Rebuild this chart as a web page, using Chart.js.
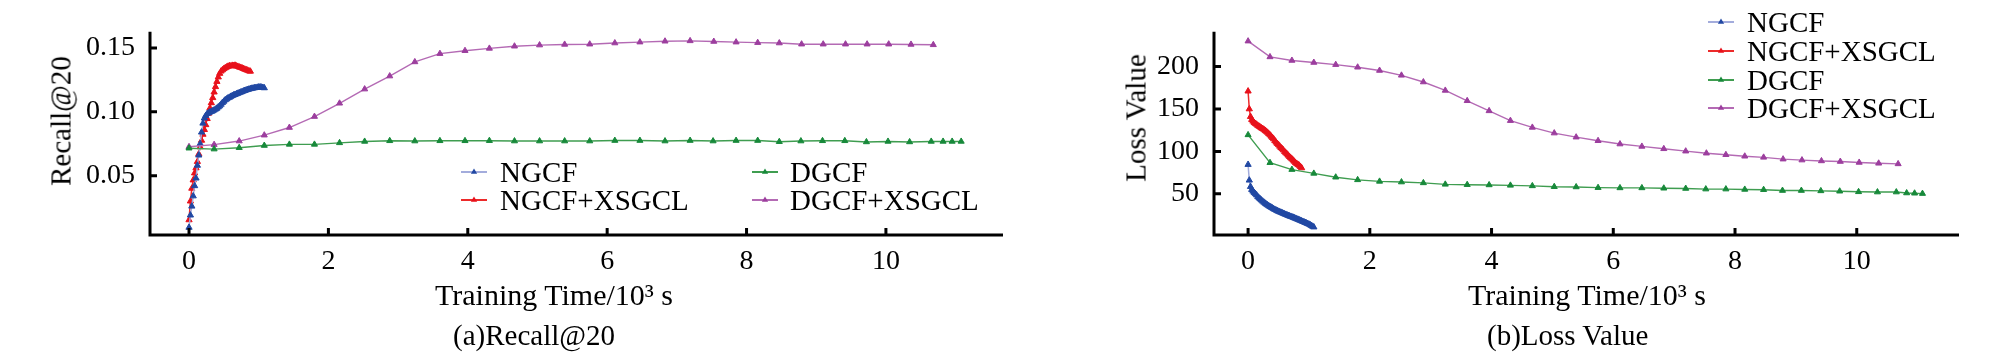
<!DOCTYPE html>
<html><head><meta charset="utf-8">
<script src="https://cdn.jsdelivr.net/npm/chart.js@4.4.1/dist/chart.umd.min.js"></script>
<style>
html,body{margin:0;padding:0;background:#fff;width:2009px;height:356px;overflow:hidden;}
#wrap{position:relative;width:2009px;height:356px;font-family:'Liberation Serif',serif;color:#000;}
.cv{position:absolute;top:0;height:356px;}
.t{position:absolute;white-space:nowrap;line-height:1;}
.rot{transform:translate(-50%,-50%) rotate(-90deg);}
</style></head><body>
<div id="wrap">
  <div class="cv" style="left:0;width:1010px"><canvas id="c1"></canvas></div>
  <div class="cv" style="left:1010px;width:999px"><canvas id="c2"></canvas></div>
  <div class="t" style="left:435px;top:280px;font-size:30px">Training Time/10³ s</div>
  <div class="t" style="left:1468px;top:280px;font-size:30px">Training Time/10³ s</div>
  <div class="t rot" style="left:61px;top:121px;font-size:29px">Recall@20</div>
  <div class="t rot" style="left:1136px;top:118px;font-size:29px">Loss Value</div>
  <div class="t" style="left:453px;top:321px;font-size:29px">(a)Recall@20</div>
  <div class="t" style="left:1487px;top:321px;font-size:29px">(b)Loss Value</div>
</div>
<script>
// ---------------- data ----------------
const SERIES_NAMES = ['NGCF', 'NGCF+XSGCL', 'DGCF', 'DGCF+XSGCL'];
const X_TICKS = [0, 2, 4, 6, 8, 10];
const RECALL_TICKS = [0.05, 0.10, 0.15];
const LOSS_TICKS = [50, 100, 150, 200];

// training time (10^3 s)
const T_NGCF = [0,0.02,0.04,0.06,0.08,0.10,0.12,0.14,0.16,0.18,0.20,0.22,0.24,0.26,0.28,0.30,0.32,0.34,0.36,0.38,0.40,0.42,0.44,0.46,0.48,0.50,0.52,0.54,0.56,0.58,0.60,0.62,0.64,0.66,0.68,0.70,0.72,0.74,0.76,0.78,0.80,0.82,0.84,0.86,0.88,0.90,0.92,0.94,0.96,0.98,1.00,1.02,1.04,1.06,1.08];
const NGCF_RECALL = [0.0094,0.0190,0.0260,0.0340,0.0420,0.0480,0.0580,0.0660,0.0750,0.0840,0.0910,0.0950,0.0970,0.0985,0.0992,0.0997,0.1002,0.1007,0.1013,0.1020,0.1027,0.1037,0.1046,0.1058,0.1072,0.1082,0.1093,0.1100,0.1108,0.1113,0.1120,0.1126,0.1131,0.1135,0.1140,0.1144,0.1149,0.1153,0.1157,0.1162,0.1166,0.1170,0.1174,0.1177,0.1180,0.1183,0.1185,0.1187,0.1189,0.1191,0.1193,0.1194,0.1192,0.1190,0.1187];
const NGCF_LOSS = [84.5,66.0,58.5,55.0,53.0,51.5,50.0,48.5,46.5,45.0,43.8,42.5,41.2,40.0,38.8,37.7,36.8,35.8,34.9,34.0,33.2,32.3,31.5,30.7,30.0,29.3,28.7,28.1,27.5,26.8,26.2,25.6,25.0,24.4,23.8,23.3,22.8,22.2,21.6,21.0,20.4,19.8,19.2,18.6,18.0,17.3,16.7,16.1,15.4,14.8,14.1,13.4,12.5,11.6,10.8];

const T_NGCF_XSGCL = [0,0.02,0.04,0.06,0.08,0.10,0.12,0.14,0.16,0.18,0.20,0.22,0.24,0.26,0.28,0.30,0.32,0.34,0.36,0.38,0.40,0.42,0.44,0.46,0.48,0.50,0.52,0.54,0.56,0.58,0.60,0.62,0.64,0.66,0.68,0.70,0.72,0.74,0.76,0.78,0.80,0.82,0.84,0.86,0.88];
const NGCF_XSGCL_RECALL = [0.0153,0.0300,0.0400,0.0465,0.0520,0.0560,0.0610,0.0670,0.0725,0.0776,0.0823,0.0860,0.0898,0.0946,0.0988,0.1029,0.1070,0.1110,0.1154,0.1196,0.1237,0.1272,0.1300,0.1318,0.1328,0.1337,0.1344,0.1350,0.1356,0.1360,0.1358,0.1363,0.1361,0.1364,0.1358,0.1355,0.1350,0.1347,0.1343,0.1338,0.1333,0.1329,0.1325,0.1320,0.1317];
const NGCF_XSGCL_LOSS = [171,150,141,137.5,135.5,134,132.8,131.8,130.5,129.5,128.5,127.5,126.8,125.8,124.6,123.5,122.3,120.8,119.3,117.8,116.2,114.6,112.5,110.8,109.2,107.8,106,104.4,103,101.6,99.8,98.2,96.8,95.4,93.8,92.4,91,89.6,88.2,86.6,85.6,84.5,83.5,82,80.5];

const T_DGCF = [0,0.36,0.72,1.08,1.44,1.80,2.16,2.52,2.88,3.24,3.60,3.96,4.31,4.67,5.03,5.39,5.75,6.11,6.47,6.83,7.19,7.52,7.85,8.16,8.47,8.78,9.09,9.41,9.72,10.03,10.34,10.65,10.82,10.95,11.08];
const DGCF_RECALL = [0.0715,0.0708,0.0719,0.0736,0.0745,0.0745,0.0757,0.0768,0.0773,0.0771,0.0773,0.0773,0.0774,0.0771,0.0771,0.0771,0.0771,0.0775,0.0775,0.0771,0.0775,0.0771,0.0775,0.0775,0.0766,0.0771,0.0773,0.0773,0.0764,0.0768,0.0764,0.0768,0.0768,0.0768,0.0768];
const DGCF_LOSS = [119.5,86.7,78.6,74.1,69.6,66.5,64.7,63.9,62.9,61.2,60.8,60.5,60.0,59.4,58.4,58.1,57.3,57.0,57.0,56.6,56.3,55.6,55.6,55.2,54.9,53.9,53.9,53.5,53.1,52.4,52.1,52.1,51.0,50.7,50.3];

const T_DGCF_XSGCL = [0,0.36,0.72,1.08,1.44,1.80,2.16,2.52,2.88,3.24,3.60,3.96,4.31,4.67,5.03,5.39,5.75,6.11,6.47,6.83,7.19,7.53,7.85,8.16,8.47,8.79,9.10,9.42,9.73,10.04,10.36,10.68];
const DGCF_XSGCL_RECALL = [0.0726,0.0743,0.0771,0.0817,0.0877,0.0963,0.1067,0.1178,0.1280,0.1391,0.1456,0.1479,0.1497,0.1514,0.1523,0.1528,0.1530,0.1539,0.1546,0.1553,0.1556,0.1551,0.1546,0.1542,0.1539,0.1530,0.1530,0.1530,0.1530,0.1530,0.1528,0.1525];
const DGCF_XSGCL_LOSS = [230.0,211.4,207.2,204.8,202.3,199.2,195.4,189.7,181.8,171.9,159.7,147.8,136.3,128.3,121.6,116.8,112.6,108.7,105.9,103.1,100.3,97.9,96.1,94.3,93.0,90.9,89.8,88.8,88.1,87.0,86.0,85.3];

// ---------------- styles ----------------
const FAMILY = "'Liberation Serif'";
const STY = [
  {line:'#a3acdc', pt:'#2148a3', r:3.6, lw:1.5},
  {line:'#ec2a2a', pt:'#e8111b', r:3.6, lw:1.5},
  {line:'#3f9d50', pt:'#17893a', r:3.5, lw:1.4},
  {line:'#b46ab4', pt:'#9c3e9e', r:3.5, lw:1.4}
];

function pts(t, v){ return t.map((x,i)=>({x:x, y:v[i]})); }
function ds(i, t, v){
  const s = STY[i];
  return {label:SERIES_NAMES[i], data:pts(t,v), borderColor:s.line, borderWidth:s.lw,
    pointStyle:'triangle', pointRadius:s.r, pointBackgroundColor:s.pt, pointBorderColor:s.pt,
    pointBorderWidth:1, tension:0, fill:false, clip:false};
}

const axesPlugin = {
  id:'axes',
  afterDatasetsDraw(chart, args, opts){
    const {ctx, chartArea:a, scales:{x, y}} = chart;
    ctx.save();
    ctx.strokeStyle = '#000'; ctx.lineWidth = 3; ctx.lineCap = 'butt';
    ctx.beginPath();
    ctx.moveTo(a.left, a.top); ctx.lineTo(a.left, a.bottom + 1.5);
    ctx.moveTo(a.left - 1.5, a.bottom); ctx.lineTo(a.right, a.bottom);
    ctx.stroke();
    ctx.beginPath();
    x.ticks.forEach(t => { const p = x.getPixelForValue(t.value); ctx.moveTo(p, a.bottom); ctx.lineTo(p, a.bottom - 7); });
    y.ticks.forEach(t => { const p = y.getPixelForValue(t.value); ctx.moveTo(a.left, p); ctx.lineTo(a.left + 7, p); });
    ctx.stroke();
    // legend
    ctx.font = "29px 'Liberation Serif'";
    ctx.fillStyle = '#000'; ctx.textBaseline = 'alphabetic'; ctx.textAlign = 'left';
    (opts.legend || []).forEach(it => {
      const s = STY[it.i];
      ctx.strokeStyle = s.line; ctx.lineWidth = 2;
      ctx.beginPath(); ctx.moveTo(it.x - 13, it.y); ctx.lineTo(it.x + 13, it.y); ctx.stroke();
      ctx.fillStyle = s.pt;
      const r = 3.6;
      ctx.beginPath();
      ctx.moveTo(it.x, it.y - r);
      ctx.lineTo(it.x + r*0.866, it.y + r*0.5);
      ctx.lineTo(it.x - r*0.866, it.y + r*0.5);
      ctx.closePath(); ctx.fill();
      ctx.fillStyle = '#000';
      ctx.fillText(SERIES_NAMES[it.i], it.x + it.dx, it.y + 9.6);
    });
    ctx.restore();
  }
};

function makeChart(id, datasets, yMin, yMax, yTicks, yFmt, yWidth, padRight, legend){
  return new Chart(document.getElementById(id), {
    type:'line',
    data:{datasets},
    plugins:[axesPlugin],
    options:{
      responsive:true, maintainAspectRatio:false, animation:false,
      layout:{padding:{left:0, right:padRight, top:6, bottom:0}, autoPadding:false},
      plugins:{legend:{display:false}, tooltip:{enabled:false}, axes:{legend}},
      scales:{
        x:{type:'linear', min:-0.56, max:11.68,
          afterBuildTicks:s => { s.ticks = X_TICKS.map(v => ({value:v})); },
          afterFit:s => { s.height = 121; },
          grid:{display:false, drawTicks:false}, border:{display:false},
          ticks:{color:'#000', font:{family:FAMILY, size:28, weight:'normal'}, padding:10, maxRotation:0, autoSkip:false,
            callback:v => String(v)}},
        y:{type:'linear', min:yMin, max:yMax,
          afterBuildTicks:s => { s.ticks = yTicks.map(v => ({value:v})); },
          afterFit:s => { s.width = yWidth; },
          grid:{display:false, drawTicks:false}, border:{display:false},
          ticks:{color:'#000', font:{family:FAMILY, size:28, weight:'normal'}, padding:15, autoSkip:false, callback:yFmt}}
      }
    }
  });
}

Chart.defaults.font.family = FAMILY;
makeChart('c1', [
  ds(2, T_DGCF, DGCF_RECALL),
  ds(3, T_DGCF_XSGCL, DGCF_XSGCL_RECALL),
  ds(0, T_NGCF, NGCF_RECALL),
  ds(1, T_NGCF_XSGCL, NGCF_XSGCL_RECALL)
], 0.0035, 0.1627, RECALL_TICKS, v => Number(v).toFixed(2), 150, 7, [
  {i:0, x:474, y:172, dx:26},
  {i:1, x:474, y:200, dx:26},
  {i:2, x:765, y:172, dx:25},
  {i:3, x:765, y:200, dx:25}
]);
makeChart('c2', [
  ds(2, T_DGCF, DGCF_LOSS),
  ds(3, T_DGCF_XSGCL, DGCF_XSGCL_LOSS),
  ds(0, T_NGCF, NGCF_LOSS),
  ds(1, T_NGCF_XSGCL, NGCF_XSGCL_LOSS)
], 1.5, 241, LOSS_TICKS, v => String(v), 204, 50, [
  {i:0, x:711, y:22, dx:26},
  {i:1, x:711, y:51, dx:26},
  {i:2, x:711, y:80, dx:26},
  {i:3, x:711, y:108, dx:26}
]);
</script>
</body></html>
